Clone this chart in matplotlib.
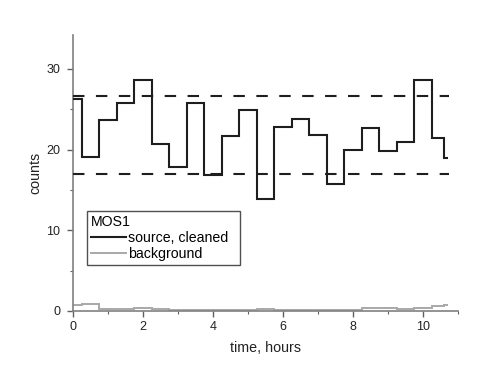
import numpy as np
import matplotlib
matplotlib.use('Agg')
import matplotlib.pyplot as plt
from matplotlib.ticker import MultipleLocator

plt.rcParams['font.family'] = ['Liberation Sans', 'DejaVu Sans']

# bin edges in hours
edges = [0.0, 0.25, 0.75, 1.25, 1.75, 2.25, 2.75, 3.25, 3.75, 4.25, 4.75,
         5.25, 5.75, 6.25, 6.75, 7.25, 7.75, 8.25, 8.75, 9.25, 9.75,
         10.25, 10.6, 10.72]
source = [26.3, 19.1, 23.7, 25.8, 28.6, 20.7, 17.9, 25.8, 16.9, 21.7, 24.9,
          13.9, 22.8, 23.8, 21.8, 15.8, 19.9, 22.7, 19.8, 21.0, 28.6,
          21.4, 19.0]
background = [0.75, 0.85, 0.3, 0.2, 0.35, 0.2, 0.1, 0.15, 0.1, 0.15, 0.1,
              0.2, 0.15, 0.1, 0.1, 0.1, 0.15, 0.35, 0.35, 0.2, 0.4,
              0.65, 0.8]
limits = [26.7, 17.0]

fig = plt.figure(figsize=(4.88, 3.88), dpi=100)
ax = fig.add_axes([0.1496, 0.1985, 0.789, 0.711])

ax.stairs(source, edges, baseline=None, color='#1e1e1e', lw=1.5,
          label='source, cleaned', zorder=3)
ax.stairs(background, edges, baseline=None, color='#a8a8a8', lw=1.4,
          label='background', zorder=2)
for lim in limits:
    ax.plot([0, 10.75], [lim, lim], color='#1e1e1e', lw=1.5,
            dashes=(5.5, 5.5), zorder=4)

ax.set_xlim(0, 11)
ax.set_ylim(0, 34.2)
ax.xaxis.set_major_locator(MultipleLocator(2))
ax.xaxis.set_minor_locator(MultipleLocator(1))
ax.yaxis.set_major_locator(MultipleLocator(10))
ax.yaxis.set_minor_locator(MultipleLocator(5))

for s in ['top', 'right']:
    ax.spines[s].set_visible(False)
for s in ['left', 'bottom']:
    ax.spines[s].set_color('#808080')
    ax.spines[s].set_linewidth(1.2)
ax.tick_params(which='major', length=4, width=1, color='#606060',
               labelsize=9, pad=3, labelcolor='#222222')
ax.tick_params(axis='y', which='major', pad=5)
ax.tick_params(which='minor', length=2.5, width=0.8, color='#606060')

ax.set_xlabel('time, hours', fontsize=10.3, color='#222222', labelpad=6)
ax.set_ylabel('counts', fontsize=10.3, color='#222222', labelpad=3)

leg = ax.legend(title='MOS1', loc='upper left',
                bbox_to_anchor=(0.0356, 0.1595, 0.398, 0.204), mode='expand',
                fontsize=10.2, title_fontsize=10.2, frameon=True, fancybox=False,
                handlelength=2.5, handletextpad=0.1, borderpad=0.3,
                labelspacing=0.15, borderaxespad=0)
leg._legend_box.align = 'left'
leg.get_frame().set_edgecolor('#505050')
leg.get_frame().set_linewidth(1.0)
leg.get_frame().set_alpha(1)

fig.savefig('out.png', dpi=100)
